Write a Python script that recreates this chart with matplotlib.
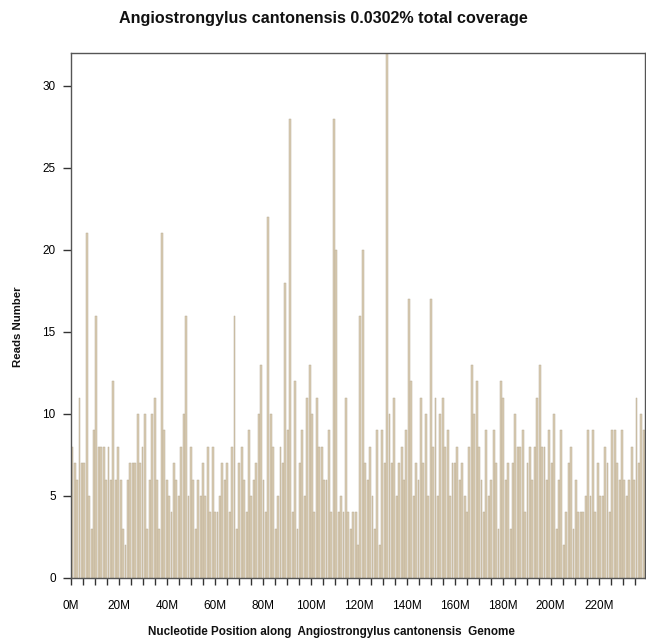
import matplotlib
matplotlib.use("Agg")                      # headless
import matplotlib.pyplot as plt
import numpy as np

plt.rcParams["font.family"] = ["Liberation Sans", "DejaVu Sans"]

TITLE = "Angiostrongylus cantonensis 0.0302% total coverage"
XLABEL = "Nucleotide Position along  Angiostrongylus cantonensis  Genome"
YLABEL = "Reads Number"

# reads per ~1M window from left to right
reads = [
    8, 7, 6, 11, 7, 7, 21, 5, 3, 9, 16, 8, 8, 8, 6, 8, 6, 12, 6, 8,
    6, 3, 2, 6, 7, 7, 7, 10, 7,
    8, 10, 3, 6, 10, 11, 6, 3, 21, 9, 6, 5, 4, 7, 6, 5, 8, 10, 16, 5,
    8, 6, 3, 6, 5, 7, 5, 8, 4, 8,
    4, 4, 5, 7, 6, 7, 4, 8, 16, 3, 7, 8, 6, 4, 9, 5, 6, 7, 10, 13,
    6, 4, 22, 10, 8, 3, 5, 8, 7, 18,
    9, 28, 4, 12, 3, 7, 9, 5, 11, 13, 10, 4, 11, 8, 8, 6, 6, 9, 4, 28,
    20, 4, 5, 4, 11, 4, 3, 4, 4,
    2, 16, 20, 7, 6, 8, 5, 3, 9, 2, 9, 7, 32, 10, 7, 11, 5, 7, 8, 6,
    9, 17, 12, 5, 7, 6, 11, 7, 10, 5, 17,
    8, 11, 5, 10, 11, 8, 9, 5, 7, 7, 8, 6, 7, 5, 4, 8, 13, 10, 12, 8,
    6, 4, 9, 5, 6, 9, 7, 3, 12,
    11, 6, 7, 3, 7, 10, 8, 8, 9, 4, 7, 8, 6, 8, 11, 13, 8, 8, 6, 9,
    7, 10, 3, 6, 9, 2, 4, 7, 8, 3,
    6, 4, 4, 4, 5, 9, 5, 9, 4, 7, 5, 5, 8, 7, 4, 9, 9, 7, 6, 9,
    6, 5, 6, 8, 6, 11, 7, 10, 9,
]
genome_mb = 239.3
y_ticks = [0, 5, 10, 15, 20, 25, 30]
x_label_mb = [0, 20, 40, 60, 80, 100, 120, 140, 160, 180, 200, 220]
x_minor_mb = list(range(0, 240, 5))

W, H = 646, 643
fig = plt.figure(figsize=(W / 100, H / 100), dpi=100)
fig.patch.set_facecolor("white")

ax = fig.add_axes([71 / W, 65 / H, 574 / W, 525 / H])

step = genome_mb / len(reads)
pos = (np.arange(len(reads)) + 0.5) * step
ax.bar(pos, reads, width=step * 0.78, color="#d9cdb3",
       edgecolor="#b9ab94", linewidth=0.35)

ax.set_xlim(0, genome_mb)
ax.set_ylim(0, 32)

ax.set_yticks(y_ticks)
ax.set_yticklabels([str(v) for v in y_ticks], fontsize=8.5)
ax.set_xticks(x_label_mb)
ax.set_xticklabels([f"{v}M" for v in x_label_mb], fontsize=8.5)
ax.set_xticks(x_minor_mb, minor=True)

ax.tick_params(axis="y", direction="out", length=6, width=1,
               color="#333333", pad=5)
ax.tick_params(axis="x", which="both", direction="out", length=5, width=1,
               color="#333333", pad=11)
for s in ax.spines.values():
    s.set_color("#555555")
    s.set_linewidth(1.0)

fig.text(323 / W, 1 - 18 / H, TITLE, ha="center", va="center",
         fontsize=11.6, fontweight="bold", color="#111111")
fig.text(331 / W, 1 - 632 / H, XLABEL, ha="center", va="center",
         fontsize=8.4, fontweight="bold", color="#111111")
fig.text(18 / W, 1 - 327 / H, YLABEL, ha="center", va="center",
         rotation=90, fontsize=8.2, fontweight="bold", color="#111111")

fig.savefig("out.png", dpi=100)
plt.close(fig)
